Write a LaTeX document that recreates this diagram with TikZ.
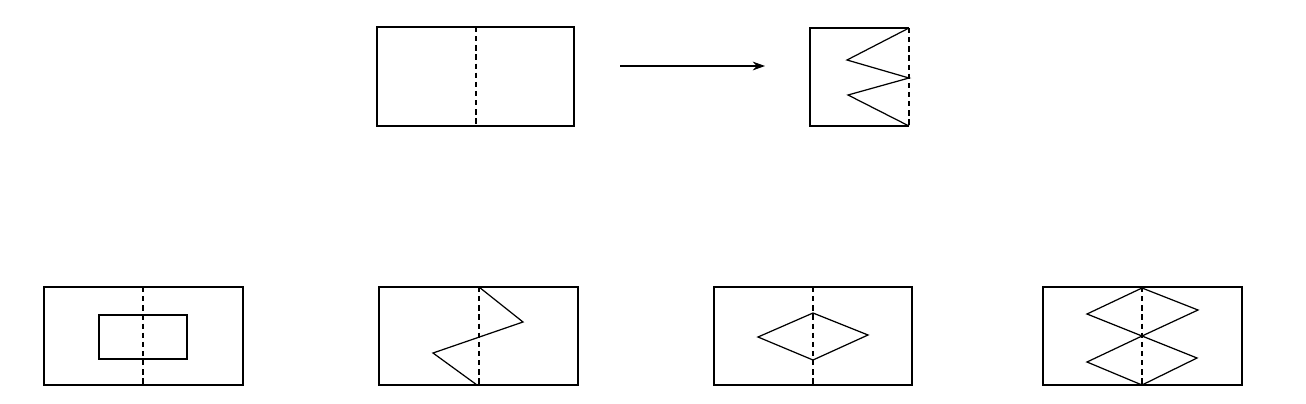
\documentclass[tikz,border=0pt]{standalone}
\usepackage{tikz}
\usetikzlibrary{arrows.meta}

\begin{document}
\begin{tikzpicture}[x=0.02cm,y=-0.02cm,
    sheet/.style={draw,line width=0.7pt},
    fold/.style={line width=0.6pt,dash pattern=on 3pt off 2.2pt},
    cut/.style={line width=0.7pt,line join=miter},
    turn/.style={line width=0.6pt,-{Stealth[length=7pt,width=5pt]}}]
  \useasboundingbox (0,0) rectangle (1306,403);
  % unfolded sheet and folded result
  \draw[sheet] (377,27) rectangle (574,126);
  \draw[fold] (476,27) -- (476,126);
  \coordinate (from) at (620,66);
  \coordinate (to) at (765,66);
  \draw[turn] (from) -- (to);
  \draw[sheet] (909,28) -- (810,28) -- (810,126) -- (909,126);
  \draw[fold] (909,28) -- (909,126);
  \draw[cut] (909,28) -- (847,60) -- (909,78) -- (848,95) -- (909,126);
  % choice A
  \draw[sheet] (44,287) rectangle (243,385);
  \draw[fold] (143,287) -- (143,385);
  \draw[cut] (99,315) rectangle (187,359);
  % choice B
  \draw[sheet] (379,287) rectangle (578,385);
  \draw[fold] (479,287) -- (479,385);
  \draw[cut] (479,287) -- (523,322) -- (433,353) -- (477,385);
  % choice C
  \draw[sheet] (714,287) rectangle (912,385);
  \draw[fold] (813,287) -- (813,385);
  \draw[cut] (813,313) -- (868,335) -- (813,360) -- (758,337) -- cycle;
  % choice D
  \draw[sheet] (1043,287) rectangle (1242,385);
  \draw[fold] (1142,287) -- (1142,385);
  \draw[cut] (1142,288) -- (1198,310) -- (1142,336) -- (1087,314) -- cycle;
  \draw[cut] (1142,336) -- (1197,358) -- (1142,385) -- (1087,362) -- cycle;
\end{tikzpicture}
\end{document}
